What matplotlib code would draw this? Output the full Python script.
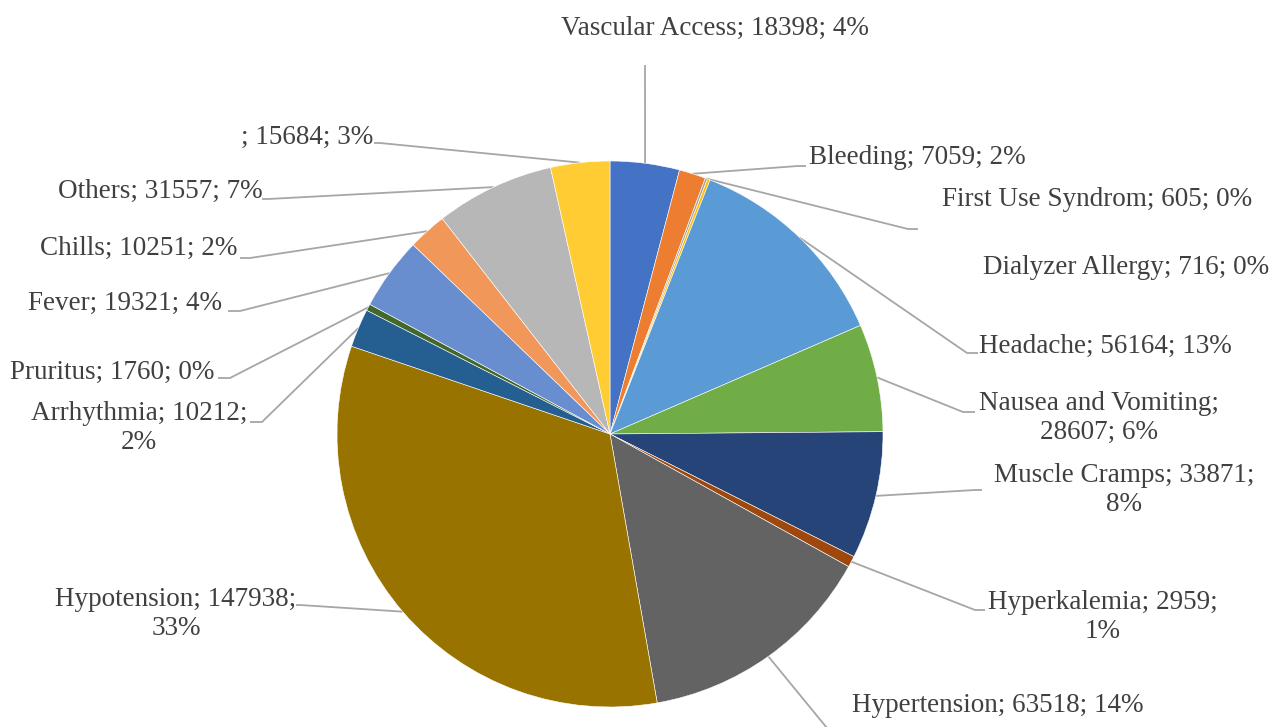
import matplotlib.pyplot as plt
import numpy as np

W, H = 1275, 727

categories = ['Vascular Access', 'Bleeding', 'First Use Syndrom', 'Dialyzer Allergy',
              'Headache', 'Nausea and Vomiting', 'Muscle Cramps', 'Hyperkalemia',
              'Hypertension', 'Hypotension', 'Arrhythmia', 'Pruritus', 'Fever',
              'Chills', 'Others', '']
values = [18398, 7059, 605, 716, 56164, 28607, 33871, 2959,
          63518, 147938, 10212, 1760, 19321, 10251, 31557, 15684]

colors = ['#4472C4', '#ED7D31', '#A5A5A5', '#FFC000', '#5B9BD5', '#70AD47',
          '#264478', '#9E480E', '#636363', '#997300', '#255E91', '#43682B',
          '#698ED0', '#F1975A', '#B7B7B7', '#FFCD33']

# label centre (pixels from top-left), where the label wraps (0 none, 1 after name, 2 before %)
label_pos = [(715, 28), (917, 158), (1097, 200), (1126, 268), (1105, 346),
             (1099, 418), (1124, 490), (1103, 617), (998, 706), (176, 614),
             (139, 428), (112, 372), (125, 303), (139, 248), (160, 191), (307, 137)]
breaks = [0, 0, 0, 0, 0, 1, 2, 2, 0, 2, 2, 0, 0, 0, 0, 0]
# leader elbow / end in pixels (None = no leader)
leaders = [((645, 65), (645, 65)), ((798, 166), (806, 166)), ((908, 229), (918, 229)), None,
           ((967, 353), (978, 353)), ((963, 412), (975, 412)), ((975, 490), (982, 490)),
           ((975, 610), (985, 610)), ((845, 750), (855, 750)), ((300, 605), (296, 605)),
           ((262, 422), (250, 422)), ((230, 378), (218, 378)), ((240, 311), (228, 311)),
           ((250, 258), (240, 258)), ((268, 199), (262, 199)), ((380, 143), (374, 143))]

cx, cy, r = 610, H - 434, 273

fig = plt.figure(figsize=(W / 100, H / 100), dpi=100)
ax = fig.add_axes([0, 0, 1, 1])
wedges, _ = ax.pie(values, colors=colors, startangle=90, counterclock=False,
                   center=(cx, cy), radius=r,
                   wedgeprops=dict(edgecolor='white', linewidth=0.4))
ax.set_xlim(0, W)
ax.set_ylim(0, H)
ax.set_aspect('equal')
ax.axis('off')

total = sum(values)
for i, w in enumerate(wedges):
    pct = round(values[i] / total * 100)
    s1 = '\n' if breaks[i] == 1 else ' '
    s2 = '\n' if breaks[i] == 2 else ' '
    txt = f'{categories[i]};{s1}{values[i]};{s2}{pct}%'
    lx, ly = label_pos[i]
    ax.text(lx, H - ly, txt, ha='center', va='center', fontsize=19.5,
            family='Liberation Serif', color='#404040', linespacing=1.2)
    if leaders[i] is None:
        continue
    mid = np.deg2rad((w.theta1 + w.theta2) / 2)
    ex, ey = cx + r * np.cos(mid), cy + r * np.sin(mid)
    (bx, by), (tx, ty) = leaders[i]
    ax.plot([ex, bx, tx], [ey, H - by, H - ty], color='#A6A6A6', lw=1.3,
            solid_capstyle='butt', zorder=0.5)

fig.savefig('out.png', dpi=100)
